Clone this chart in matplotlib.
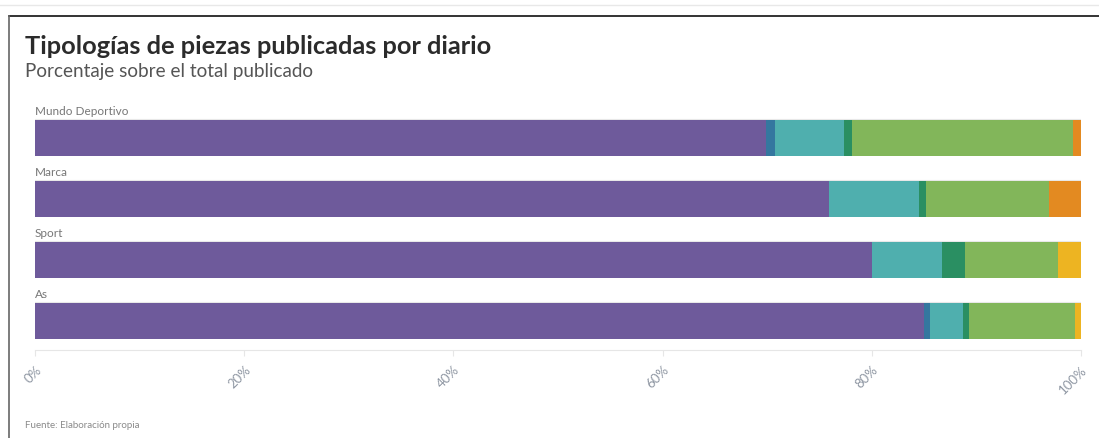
import numpy as np
import matplotlib.pyplot as plt
from matplotlib.lines import Line2D

plt.rcParams['font.family'] = ['Lato', 'DejaVu Sans']

diarios = ["Mundo Deportivo", "Marca", "Sport", "As"]
# percentage of each piece type per paper
morado = [69.9, 75.9, 80.0, 85.0]
azul = [0.8, 0.0, 0.0, 0.6]
turquesa = [6.6, 8.6, 6.7, 3.1]
verde_osc = [0.8, 0.7, 2.2, 0.6]
verde = [21.1, 11.7, 8.9, 10.1]
naranja = [0.8, 3.1, 0.0, 0.0]
amarillo = [0.0, 0.0, 2.2, 0.6]

series = [morado, azul, turquesa, verde_osc, verde, naranja, amarillo]
colores = ["#6e5a9b", "#34779f", "#4fafae", "#2a8f62", "#82b65a", "#e38a21", "#edb422"]
ticks = [0, 20, 40, 60, 80, 100]

fig = plt.figure(figsize=(10.99, 4.38), dpi=100)
W, H = 1099, 438
ax = fig.add_axes([35 / W, 88 / H, 1046 / W, 240 / H])

y = np.arange(len(diarios))
left = np.zeros(len(diarios))
for vals, c in zip(series, colores):
    vals = np.array(vals)
    ax.barh(y, vals, left=left, height=0.59, color=c, edgecolor="none")
    left += vals

for i, d in enumerate(diarios):
    ax.text(0, i - 0.43, d, fontsize=8.5, color="#777777", va="center", ha="left")
    ax.axhline(i - 0.31, color="#e8e8e8", lw=0.8, zorder=0)

ax.set_xlim(0, 100)
ax.set_ylim(3.475, -0.46)
ax.set_yticks([])
ax.set_xticks(ticks)
ax.set_xticklabels([f"{t}%" for t in ticks], rotation=45, ha="right",
                   rotation_mode="anchor", fontsize=9.5, color="#8f97a3")
ax.tick_params(axis="x", length=4, color="#e6e6e6", pad=6)
for s in ["top", "right", "left"]:
    ax.spines[s].set_visible(False)
ax.spines["bottom"].set_color("#e6e6e6")

fig.text(25 / W, 1 - 46 / H, "Tipologías de piezas publicadas por diario",
         fontsize=18.3, fontweight="bold", color="#2b2b2b", va="center")
fig.text(25 / W, 1 - 71 / H, "Porcentaje sobre el total publicado",
         fontsize=13.6, color="#555555", va="center")
fig.text(25 / W, 1 - 425 / H, "Fuente: Elaboración propia",
         fontsize=7, color="#8a8a8a", va="center")

# frame around the chart
fig.add_artist(Line2D([0, 1], [1 - 4.5 / H] * 2, color="#e8e8e8", lw=1))
fig.add_artist(Line2D([8.5 / W, 1], [1 - 15.5 / H] * 2, color="#111111", lw=1.2))
fig.add_artist(Line2D([8.5 / W] * 2, [0, 1 - 15.5 / H], color="#666666", lw=1.2))

fig.savefig("out.png", dpi=100)
